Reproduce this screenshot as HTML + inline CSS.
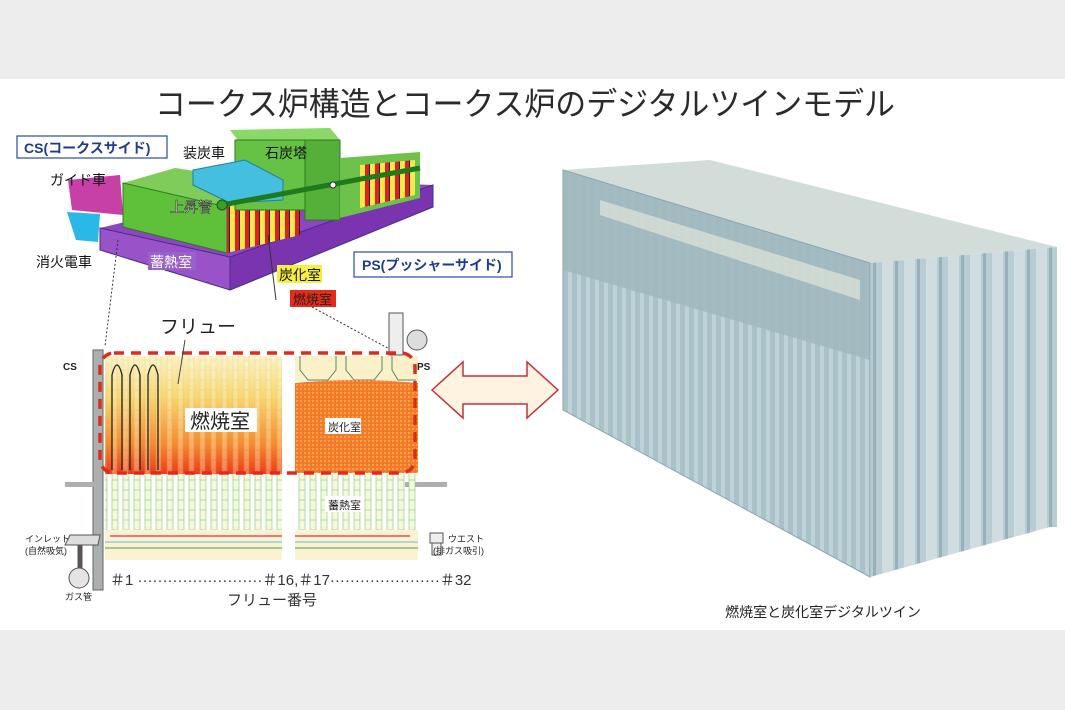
<!DOCTYPE html>
<html><head><meta charset="utf-8"><style>
html,body{margin:0;padding:0;background:#ededed;}
svg{display:block;font-family:"Liberation Sans","Noto Sans CJK JP",sans-serif;}
</style></head><body>
<svg width="1065" height="710" viewBox="0 0 1065 710" xmlns="http://www.w3.org/2000/svg">
<defs>
<linearGradient id="fire" x1="0" y1="0" x2="0" y2="1">
<stop offset="0" stop-color="#fbf3c4"/><stop offset="0.35" stop-color="#f8d670"/><stop offset="0.75" stop-color="#f58a2e"/><stop offset="1" stop-color="#ee3a16"/></linearGradient>
<pattern id="hatch" width="4" height="4" patternUnits="userSpaceOnUse"><rect width="4" height="4" fill="#f47a2a"/><rect width="2" height="2" fill="#f9a24a"/></pattern>
<pattern id="flue" width="11" height="10" patternUnits="userSpaceOnUse"><rect x="2" width="5" height="10" fill="#fff6d0" stroke="#c9b77a" stroke-width="0.6"/></pattern>
<pattern id="regen" width="11" height="10" patternUnits="userSpaceOnUse"><rect x="2" width="6" height="10" fill="#f6f8dc" stroke="#8fcf8a" stroke-width="0.7"/></pattern>
<pattern id="vstripe" width="9" height="10" patternUnits="userSpaceOnUse"><rect width="9" height="10" fill="#a9c1c9"/><rect x="1" width="4" height="10" fill="#bfd2d8"/></pattern>
<pattern id="fstripe" width="22" height="10" patternUnits="userSpaceOnUse"><rect width="22" height="10" fill="#b8ccd3"/><rect x="2" width="11" height="10" fill="#cfdde1"/><rect x="15" width="3" height="10" fill="#97b1ba"/></pattern>
<pattern id="rb" width="10" height="10" patternUnits="userSpaceOnUse"><rect width="10" height="10" fill="#f5e84a"/><rect x="5" width="5" height="10" fill="#e0201c"/><rect x="9" width="1" height="10" fill="#222"/></pattern>
</defs>
<rect x="0" y="79" width="1065" height="551" fill="#ffffff"/>
<text x="525" y="115" font-size="32" text-anchor="middle" fill="#2a2a2a" textLength="740" lengthAdjust="spacingAndGlyphs">コークス炉構造とコークス炉のデジタルツインモデル</text>

<!-- top 3D oven -->
<polygon points="100,228 300,180 433,185 230,257" fill="#8e45c0"/>
<polygon points="230,257 433,185 433,207 230,290" fill="#7a34b0" stroke="#4a2a8a" stroke-width="1"/>
<polygon points="100,228 230,257 230,290 100,250" fill="#9a52c8" stroke="#4a2a8a" stroke-width="1"/>
<polygon points="68,180 120,175 123,215 72,210" fill="#c640a8"/>
<polygon points="67,212 100,214 98,242 76,240" fill="#2ab8e8"/>
<polygon points="123,183 175,168 320,190 227,207" fill="#7fcc5a"/>
<polygon points="123,183 227,207 227,253 123,227" fill="#5fc03a" stroke="#2d7a1c" stroke-width="1"/>
<polygon points="227,207 300,188 300,235 227,253" fill="url(#rb)"/>
<polygon points="230,130 330,128 340,140 240,143" fill="#8ad868"/>
<rect x="235" y="140" width="70" height="70" fill="#66c244" stroke="#2d7a1c"/>
<rect x="305" y="140" width="35" height="80" fill="#55b03a" stroke="#2d7a1c"/>
<polygon points="340,158 420,152 420,198 340,218" fill="#6cc24a"/>
<polygon points="360,165 415,160 415,195 360,208" fill="url(#rb)"/>
<polygon points="193,170 245,160 283,180 283,200 230,203 193,185" fill="#45bfe0" stroke="#1f7fa0"/>
<line x1="222" y1="205" x2="420" y2="168" stroke="#1f7a1c" stroke-width="5"/>
<circle cx="222" cy="205" r="5" fill="#3aa024" stroke="#1a5a12"/>
<circle cx="333" cy="185" r="3" fill="#fff" stroke="#333"/>
<rect x="17" y="136" width="150" height="22" fill="#fff" stroke="#2a4ea0" stroke-width="1.2"/>
<text x="24" y="153" font-size="14" fill="#1e3c8c" font-weight="bold">CS(コークスサイド)</text>
<text x="183" y="158" font-size="14" fill="#111">装炭車</text>
<text x="265" y="158" font-size="14" fill="#111">石炭塔</text>
<text x="50" y="185" font-size="14" fill="#111">ガイド車</text>
<text x="170" y="212" font-size="14" fill="#fff" stroke="#111" stroke-width="0.5">上昇管</text>
<text x="36" y="267" font-size="14" fill="#111">消火電車</text>
<rect x="148" y="252" width="48" height="18" fill="#9a62c8"/>
<text x="150" y="267" font-size="14" fill="#fff">蓄熱室</text>
<rect x="354" y="252" width="158" height="25" fill="#fff" stroke="#2a4ea0" stroke-width="1.2"/>
<text x="362" y="270" font-size="14" fill="#1e3c8c" font-weight="bold">PS(プッシャーサイド)</text>
<rect x="277" y="265" width="45" height="18" fill="#f7ef40"/>
<text x="279" y="280" font-size="14" fill="#111">炭化室</text>
<rect x="290" y="290" width="46" height="17" fill="#e82a18"/>
<text x="293" y="304" font-size="13" fill="#222">燃焼室</text>
<line x1="268" y1="235" x2="276" y2="300" stroke="#333" stroke-width="1"/>
<line x1="118" y1="240" x2="105" y2="346" stroke="#333" stroke-dasharray="2,2"/>
<line x1="312" y1="307" x2="395" y2="352" stroke="#333" stroke-dasharray="2,2"/>

<!-- bottom section -->
<rect x="93" y="350" width="10" height="240" fill="#aab0b0" stroke="#666"/>
<rect x="65" y="482" width="36" height="5" fill="#aab0b0"/>
<rect x="405" y="482" width="42" height="5" fill="#aab0b0"/>
<rect x="389" y="313" width="14" height="42" fill="#eee" stroke="#555"/>
<circle cx="417" cy="340" r="10" fill="#ddd" stroke="#555"/>
<rect x="105" y="356" width="177" height="118" fill="url(#fire)"/>
<rect x="105" y="356" width="177" height="118" fill="url(#flue)" opacity="0.35"/>
<path d="M112 470V375q5-20 10 0V470 M130 470V375q5-20 10 0V470 M148 470V375q5-20 10 0V470" fill="none" stroke="#222" stroke-width="1.3"/>
<rect x="295" y="356" width="123" height="25" fill="#fbf0c8"/>
<path d="M300 356v14l8 10h20l8-10v-14 M346 356v14l8 10h20l8-10v-14 M392 356v14l6 10h18" fill="none" stroke="#4a8a6a" stroke-width="1"/>
<path d="M295 383q60-6 123 0v90h-123z" fill="url(#hatch)"/>
<rect x="105" y="474" width="177" height="56" fill="url(#regen)"/>
<rect x="295" y="474" width="123" height="56" fill="url(#regen)"/>
<rect x="105" y="530" width="313" height="30" fill="#fbf2cf"/>
<line x1="110" y1="536" x2="410" y2="536" stroke="#d43050" stroke-width="1.2"/>
<line x1="105" y1="542" x2="418" y2="542" stroke="#7ac8e0" stroke-width="1.2"/>
<line x1="105" y1="548" x2="418" y2="548" stroke="#4a9a6a" stroke-width="1"/>
<rect x="282" y="350" width="13" height="215" fill="#fff"/>
<rect x="100" y="353" width="315" height="120" rx="14" fill="none" stroke="#e02a1a" stroke-width="3.5" stroke-dasharray="10,7"/>
<rect x="185" y="408" width="72" height="24" fill="#fff"/>
<text x="190" y="428" font-size="20" fill="#222">燃焼室</text>
<rect x="325" y="418" width="36" height="16" fill="#fff"/>
<text x="328" y="431" font-size="11" fill="#222">炭化室</text>
<rect x="325" y="496" width="36" height="16" fill="#fff"/>
<text x="328" y="509" font-size="11" fill="#222">蓄熱室</text>
<text x="160" y="333" font-size="19" fill="#222">フリュー</text>
<line x1="185" y1="340" x2="178" y2="384" stroke="#444"/>
<text x="63" y="370" font-size="10" fill="#222" font-weight="bold">CS</text>
<text x="417" y="370" font-size="10" fill="#222" font-weight="bold">PS</text>
<polygon points="70,535 100,535 98,545 65,545" fill="#ddd" stroke="#555"/>
<line x1="80" y1="545" x2="80" y2="570" stroke="#555" stroke-width="5"/>
<circle cx="79" cy="578" r="10" fill="#e4e4e4" stroke="#555"/>
<rect x="430" y="533" width="13" height="10" fill="#eee" stroke="#555"/>
<rect x="432" y="543" width="9" height="12" fill="#eee" stroke="#555"/>
<text x="25" y="542" font-size="9" fill="#222">インレット</text>
<text x="25" y="554" font-size="9" fill="#222">(自然吸気)</text>
<text x="448" y="542" font-size="9" fill="#222">ウエスト</text>
<text x="433" y="554" font-size="9" fill="#222">(排ガス吸引)</text>
<text x="65" y="600" font-size="9" fill="#222">ガス管</text>
<text x="110" y="585" font-size="15" fill="#333">＃1 ·························＃16,＃17······················＃32</text>
<text x="272" y="605" font-size="15" fill="#333" text-anchor="middle">フリュー番号</text>

<!-- double arrow -->
<polygon points="432,390 463,362 463,376 527,376 527,362 558,390 527,418 527,404 463,404 463,418" fill="#fdf3e0" stroke="#c8303a" stroke-width="1.5"/>

<!-- right digital twin -->
<polygon points="563,170 710,160 1057,247 870,263" fill="#d2ddd9"/>
<polygon points="563,170 870,263 870,577 563,410" fill="url(#vstripe)"/>
<polygon points="563,170 870,263 870,360 563,270" fill="#9fb8bd" opacity="0.85"/>
<polygon points="600,200 860,280 860,300 600,215" fill="#e0e6dc" opacity="0.7"/>
<polygon points="870,263 1057,247 1057,527 1050,527 870,577" fill="url(#fstripe)"/>
<polygon points="563,170 870,263 870,577 563,410" fill="none" stroke="#8aa6b0"/>
<text x="823" y="617" font-size="14" fill="#222" text-anchor="middle">燃焼室と炭化室デジタルツイン</text>
</svg>
</body></html>
